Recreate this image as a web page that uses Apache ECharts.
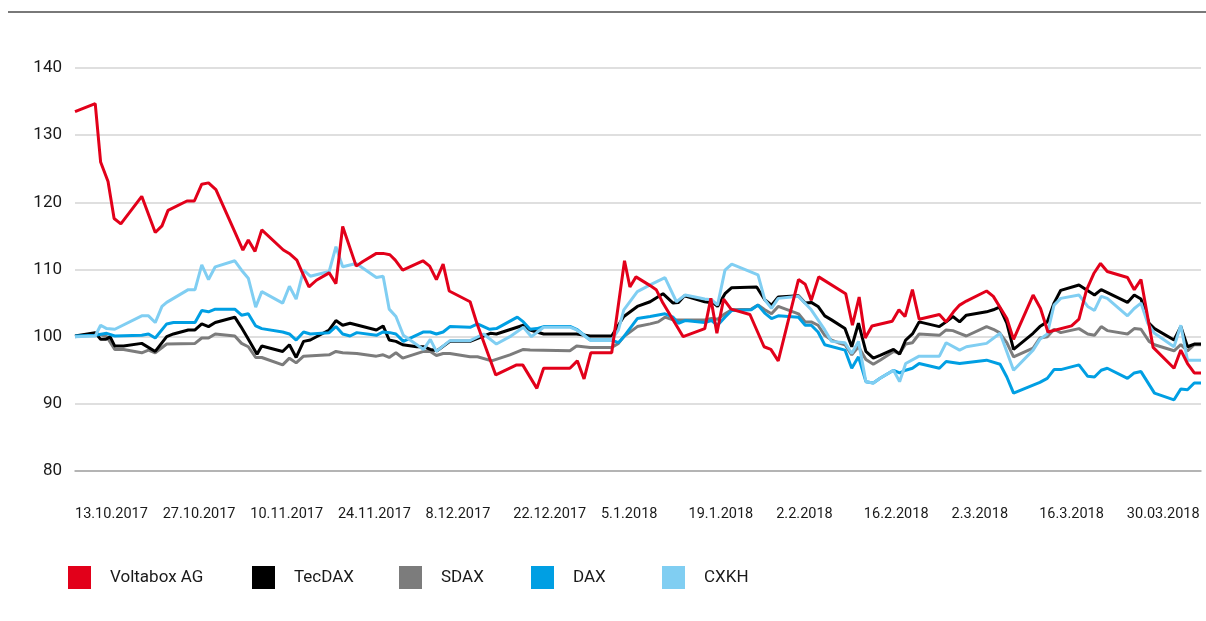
<!DOCTYPE html>
<html style="height: 100%">

<head>
  <meta charset="utf-8">
  <title>Voltabox AG Kursentwicklung</title>
</head>

<body style="height: 100%; margin: 0; background: #fff">
  <div id="container" style="width: 1206px; height: 621px"></div>
  <script type="text/javascript" src="https://cdn.jsdelivr.net/npm/echarts@6/dist/echarts.min.js"></script>
  <script type="text/javascript">
    // x = Kalendertage seit 13.10.2017, y = indexiert (13.10.2017 = 100)
    var tickLabels = ['13.10.2017', '27.10.2017', '10.11.2017', '24.11.2017', '8.12.2017', '22.12.2017',
      '5.1.2018', '19.1.2018', '2.2.2018', '16.2.2018', '2.3.2018', '16.3.2018', '30.03.2018'];

    var voltabox = [[0,133.5],[3,134.7],[3.8,126.0],[4.9,123.1],[5.8,117.6],[6.8,116.8],[9.9,120.9],[11.9,115.5],[12.9,116.5],[13.8,118.8],[16.6,120.2],[17.7,120.2],[18.8,122.7],[19.8,122.9],[20.9,121.9],[23.7,115.6],[24.9,112.9],[25.7,114.4],[26.7,112.7],[27.7,115.9],[30.9,112.9],[31.9,112.3],[32.9,111.4],[33.6,109.8],[34.7,107.4],[35.8,108.4],[37.7,109.5],[38.7,107.9],[39.7,116.4],[41.7,110.5],[42.7,111.2],[44.7,112.4],[45.7,112.4],[46.7,112.2],[47.5,111.4],[48.6,109.9],[51.6,111.3],[52.6,110.5],[53.6,108.5],[54.6,110.8],[55.5,106.8],[58.6,105.2],[59.6,102.0],[62.4,94.3],[65.5,95.8],[66.4,95.8],[68.5,92.3],[69.5,95.3],[73.4,95.3],[74.5,96.4],[75.5,93.7],[76.5,97.6],[79.6,97.6],[81.5,111.3],[82.3,107.4],[83.2,108.9],[85.3,107.6],[86.2,107.0],[87.2,105.0],[90.2,100.0],[93.4,101.2],[94.3,105.7],[95.2,100.5],[96.2,105.6],[97.3,104.1],[100.1,103.3],[102.2,98.5],[103.2,98.1],[104.3,96.4],[107.3,108.5],[108.3,107.8],[109.2,105.4],[110.3,108.9],[114.3,106.4],[115.3,101.7],[116.3,105.9],[117.2,99.8],[118.2,101.6],[121.2,102.3],[122.2,104.0],[123.1,103.0],[124.2,107.0],[125.2,102.6],[128.2,103.3],[129.2,102.2],[130.3,103.7],[131.2,104.7],[132.2,105.3],[135.2,106.8],[136.2,106.0],[138.2,102.7],[139.2,99.6],[142.1,106.2],[143.2,104.2],[144.3,100.7],[147.8,101.6],[148.9,102.6],[150.0,106.9],[151.1,109.4],[152.1,110.9],[153.1,109.7],[156.1,108.8],[157.1,107.0],[158.1,108.5],[159.9,98.4],[163.0,95.3],[164.0,98.0],[165.0,96.0],[166.0,94.6],[167.0,94.6]];

    var tecdax = [[0,100.1],[3,100.6],[3.8,99.6],[4.6,99.6],[5.2,100.0],[5.9,98.6],[7.2,98.6],[9.9,99.0],[11.9,97.8],[13.6,100.0],[14.6,100.4],[16.8,101.0],[17.8,101.0],[18.8,101.9],[19.8,101.5],[20.8,102.1],[23.7,102.9],[24.6,101.5],[25.5,100.0],[27.0,97.4],[27.7,98.6],[30.8,97.8],[31.8,98.8],[32.8,96.9],[33.9,99.3],[34.9,99.5],[37.7,101.0],[38.7,102.4],[39.7,101.7],[40.8,102.0],[44.7,101.0],[45.7,101.6],[46.6,99.5],[47.6,99.3],[48.6,98.8],[50.7,98.5],[51.7,98.5],[52.7,98.1],[53.7,97.9],[55.6,99.3],[58.6,99.3],[61.6,100.5],[62.5,100.4],[66.5,101.7],[67.5,101.0],[68.5,100.7],[69.5,100.4],[74.4,100.4],[76.4,100.1],[79.6,100.1],[81.4,103.0],[83.4,104.5],[85.3,105.2],[87.2,106.4],[88.7,105.0],[89.5,105.1],[90.4,106.1],[93.4,105.2],[94.7,105.0],[95.3,104.5],[96.4,106.4],[97.4,107.3],[101.1,107.4],[102.3,105.5],[103.3,104.7],[104.3,105.9],[107.3,106.1],[108.3,105.0],[109.2,105.1],[110.2,104.5],[111.2,103.1],[112.2,102.5],[114.2,101.2],[115.2,98.5],[116.2,102.0],[117.3,97.8],[118.4,96.8],[119.4,97.2],[121.4,98.1],[122.3,97.4],[123.2,99.5],[124.2,100.4],[125.2,102.2],[128.2,101.5],[129.2,102.2],[130.2,103.0],[131.2,102.2],[132.2,103.2],[135.2,103.7],[136.2,104.0],[137.1,104.4],[138.2,102.0],[139.2,98.1],[142.1,100.5],[143.1,101.5],[144.2,102.2],[145.2,105.0],[146.2,106.9],[148.9,107.7],[151.2,106.2],[152.2,107.0],[156.1,105.1],[157.1,106.2],[158.1,105.6],[159.3,102.0],[160.1,101.2],[163.0,99.5],[164.0,101.5],[165.0,98.5],[166.0,98.9],[167.0,98.9]];

    var sdax = [[0,100],[3,100.5],[4.7,100],[5.9,98.1],[7.2,98.1],[9.9,97.6],[10.9,98.0],[11.9,97.6],[13.6,98.9],[17.8,99.0],[18.8,99.8],[19.8,99.8],[20.8,100.4],[23.7,100.1],[24.7,99.0],[25.7,98.5],[26.8,96.9],[27.7,96.9],[30.8,95.8],[31.8,96.8],[32.8,96.1],[33.9,97.1],[37.7,97.3],[38.7,97.8],[39.7,97.6],[41.8,97.5],[44.7,97.1],[45.7,97.3],[46.6,96.9],[47.6,97.6],[48.6,96.8],[51.7,97.8],[52.7,97.8],[53.6,97.2],[54.6,97.5],[55.6,97.5],[58.6,97.0],[59.7,97.0],[61.8,96.4],[64.5,97.3],[66.5,98.1],[67.5,98.0],[73.4,97.9],[74.4,98.6],[76.4,98.4],[79.6,98.4],[80.6,99.0],[81.4,100.0],[83.4,101.5],[85.3,101.9],[86.5,102.2],[87.5,102.9],[88.7,102.5],[90.5,102.5],[93.4,102.5],[94.4,102.7],[95.3,102.6],[96.4,103.4],[97.4,104.0],[100.3,104.1],[101.3,104.7],[102.3,104.0],[103.3,103.4],[104.3,104.5],[107.3,103.4],[108.3,102.2],[109.2,102.2],[110.2,101.7],[111.2,100.2],[112.2,99.5],[113.2,99.1],[114.2,98.8],[115.2,97.3],[116.2,98.5],[117.3,96.6],[118.4,95.9],[119.4,96.5],[121.4,97.8],[122.3,97.5],[123.2,98.9],[124.2,99.1],[125.2,100.4],[128.2,100.2],[129.2,101.0],[130.2,100.9],[131.2,100.5],[132.2,100.1],[135.2,101.5],[136.2,101.1],[137.1,100.6],[138.2,99.1],[139.2,97.0],[142.1,98.3],[143.1,99.8],[144.2,100.0],[145.2,101.1],[146.2,100.6],[148.9,101.2],[150.2,100.4],[151.2,100.2],[152.2,101.5],[153.1,100.9],[156.1,100.4],[157.1,101.2],[158.1,101.1],[159.3,99.3],[160.1,98.8],[163.0,97.9],[164.0,98.8],[165.0,97.9],[166.0,98.8],[167.0,98.8]];

    var dax = [[0,100.1],[3,100.2],[4.7,100.5],[5.9,100.1],[9.9,100.2],[10.9,100.4],[11.9,99.8],[13.6,101.9],[14.6,102.1],[17.8,102.1],[18.8,103.9],[19.8,103.7],[20.8,104.1],[23.7,104.1],[24.7,103.2],[25.7,103.4],[26.8,101.6],[27.7,101.2],[30.8,100.7],[31.8,100.4],[32.8,99.5],[33.9,100.7],[34.9,100.4],[37.7,100.6],[38.7,101.5],[39.7,100.4],[40.8,100.1],[41.8,100.6],[44.7,100.2],[45.7,100.7],[46.7,100.6],[47.6,100.4],[48.7,99.3],[51.7,100.7],[52.7,100.7],[53.6,100.4],[54.6,100.7],[55.6,101.5],[58.6,101.4],[59.7,101.9],[61.5,101.1],[62.5,101.2],[65.6,102.9],[66.5,102.2],[67.5,101.1],[68.5,101.2],[69.5,101.5],[73.5,101.5],[74.4,101.1],[76.4,99.5],[79.6,99.5],[80.6,99.1],[81.4,100.0],[83.4,102.7],[85.3,103.0],[87.5,103.4],[88.7,102.9],[89.5,102.0],[90.5,102.4],[93.4,102.1],[94.4,102.4],[95.3,101.7],[96.4,102.9],[97.4,103.9],[100.3,104.0],[101.3,104.7],[102.3,103.5],[103.3,102.7],[104.3,103.1],[107.3,102.9],[108.3,101.7],[109.2,101.7],[110.2,100.7],[111.2,98.8],[114.2,98.0],[115.2,95.3],[116.2,97.0],[117.3,93.3],[118.4,93.1],[119.4,93.8],[121.4,95.0],[122.3,94.6],[123.2,95.0],[124.2,95.3],[125.2,96.0],[128.2,95.3],[129.2,96.3],[131.2,96.0],[135.2,96.5],[137.2,95.9],[138.2,94.0],[139.2,91.6],[142.1,92.8],[143.1,93.2],[144.2,93.8],[145.2,95.1],[146.2,95.1],[148.9,95.8],[150.2,94.1],[151.2,94.0],[152.2,95.0],[153.1,95.3],[156.1,93.8],[157.1,94.6],[158.1,94.8],[160.1,91.6],[163.0,90.6],[164.0,92.2],[165.0,92.1],[166.0,93.1],[167.0,93.1]];

    var cxkh = [[0,100],[3,100.1],[3.8,101.7],[4.7,101.2],[5.9,101.1],[9.9,103.1],[10.9,103.1],[11.9,102.1],[12.9,104.5],[13.6,105.1],[16.8,107.0],[17.8,107.0],[18.8,110.7],[19.8,108.5],[20.8,110.4],[23.7,111.3],[24.7,109.9],[25.7,108.7],[26.8,104.4],[27.7,106.7],[30.8,105.0],[31.8,107.5],[32.8,105.6],[33.9,109.9],[34.9,109.0],[37.7,109.7],[38.7,113.4],[39.7,110.4],[41.7,110.9],[44.7,108.8],[45.7,109.0],[46.6,104.1],[47.6,103.0],[48.7,100.2],[51.7,98.1],[52.7,99.6],[53.6,97.8],[55.6,99.4],[58.6,99.4],[60.6,100.4],[62.5,98.9],[64.5,100.0],[66.5,101.4],[67.7,100.0],[69.5,101.4],[73.5,101.4],[74.4,101.0],[76.4,99.5],[79.6,99.5],[80.6,101.0],[81.4,104.0],[83.4,106.7],[85.3,107.7],[87.5,108.8],[89.2,105.2],[90.5,106.2],[93.4,105.6],[94.4,105.5],[95.3,104.7],[96.4,109.9],[97.4,110.8],[101.3,109.2],[102.3,105.5],[103.3,104.2],[104.3,105.7],[107.3,106.0],[109.2,104.0],[111.2,101.0],[112.2,99.3],[114.2,99.1],[115.2,97.5],[116.2,99.3],[117.3,93.3],[118.4,93.1],[119.4,93.8],[121.4,95.0],[122.3,93.3],[123.2,96.0],[125.2,97.1],[128.2,97.1],[129.2,99.1],[131.2,98.0],[132.2,98.5],[135.2,99.0],[137.2,100.5],[139.2,95.0],[142.1,98.0],[143.1,99.6],[144.2,100.4],[145.2,104.7],[146.2,105.7],[148.9,106.2],[150.2,104.5],[151.2,103.9],[152.2,106.0],[153.1,105.7],[156.1,103.1],[157.1,104.2],[158.1,105.0],[159.1,102.0],[160.1,100.5],[163.0,98.5],[164.0,101.7],[165.0,96.5],[166.0,96.5],[167.0,96.5]];

    var names = ['Voltabox AG', 'TecDAX', 'SDAX', 'DAX', 'CXKH'];
    var colors = ['#e2001a', '#000000', '#7c7c7c', '#009fe3', '#80cef2'];
    var legendLeft = [68, 252, 399, 531, 662];

    var dom = document.getElementById("container");
    var myChart = echarts.init(dom);
    var font = 'Roboto, "Noto Sans", sans-serif';

    function line(i, data) {
      return {
        name: names[i],
        type: 'line',
        data: data,
        showSymbol: false,
        symbol: 'none',
        lineStyle: { width: 3, color: colors[i] },
        itemStyle: { color: colors[i] },
        animation: false
      };
    }

    var option = {
      backgroundColor: '#fff',
      textStyle: { fontFamily: font },
      grid: { left: 75, right: 5, top: 68, bottom: 150 },
      xAxis: {
        type: 'value',
        min: 0,
        max: 167,
        interval: 13,
        axisLine: { show: true, lineStyle: { color: '#a6a6a6', width: 1.5 } },
        axisTick: { show: false },
        splitLine: { show: false },
        axisLabel: {
          showMaxLabel: false,
          align: 'left',
          margin: 36,
          fontSize: 14.5,
          color: '#1a1a1a',
          formatter: function (v) {
            var k = Math.round(v / 13);
            return tickLabels[k] || '';
          }
        }
      },
      yAxis: {
        type: 'value',
        min: 80,
        max: 140,
        interval: 10,
        axisLine: { show: false },
        axisTick: { show: false },
        axisLabel: { fontSize: 17, color: '#1a1a1a', margin: 13 },
        splitLine: { lineStyle: { color: '#d4d4d4', width: 1.5 } }
      },
      legend: names.map(function (n, i) {
        return {
          data: [n],
          left: legendLeft[i],
          top: 566,
          padding: 0,
          icon: 'rect',
          itemWidth: 23,
          itemHeight: 23,
          textStyle: { fontSize: 17, color: '#1a1a1a', padding: [0, 0, 0, 14] }
        };
      }),
      graphic: [{
        type: 'line',
        shape: { x1: 8, y1: 12, x2: 1206, y2: 12 },
        style: { stroke: '#4d4d4d', lineWidth: 1.5 }
      }],
      series: [
        line(2, sdax),
        line(1, tecdax),
        line(3, dax),
        line(4, cxkh),
        line(0, voltabox)
      ]
    };
    myChart.setOption(option, true);
  </script>
</body>

</html>
